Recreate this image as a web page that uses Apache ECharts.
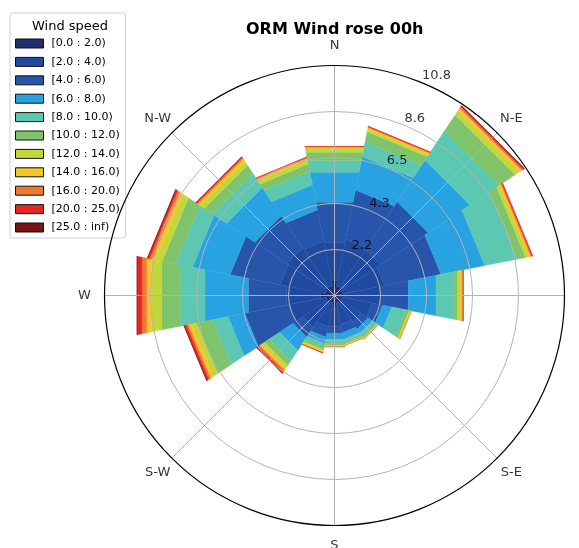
<!DOCTYPE html>
<html><head><meta charset="utf-8">
<script src="https://cdn.jsdelivr.net/npm/echarts@6/dist/echarts.min.js"></script>
<style>html,body{margin:0;padding:0;background:#fff}#c{width:579px;height:548px}</style>
</head><body><div id="c"></div>
<script>
// ---- data ----
const directions = ['N','NNE','NE','ENE','E','ESE','SE','SSE','S','SSW','SW','WSW','W','WNW','NW','NNW'];
const dirAngles = [0,22.5,45,67.5,90,112.5,135,157.5,180,202.5,225,247.5,270,292.5,315,337.5];
const speedBins = ['[0.0 : 2.0)','[2.0 : 4.0)','[4.0 : 6.0)','[6.0 : 8.0)','[8.0 : 10.0)','[10.0 : 12.0)','[12.0 : 14.0)','[14.0 : 16.0)','[16.0 : 20.0)','[20.0 : 25.0)','[25.0 : inf)'];
const binColors = ['#1f2d6e','#2049a0','#2655ab','#28a2e0','#5cc8b2','#7fc46b','#c2d73a','#f6c42c','#ef7832','#e6261f','#7b1414'];
// frequency (%) per direction for each speed bin
const s0_2   = [0.70,0.45,0.50,0.40,0.45,0.35,0.40,0.35,0.55,0.35,0.45,0.40,0.65,0.45,0.50,0.45];
const s2_4   = [1.85,2.25,2.10,2.00,1.75,1.45,1.10,1.05,0.95,1.15,1.35,1.80,1.65,2.15,2.20,2.15];
const s4_6   = [1.92,2.35,2.70,2.70,1.33,0.50,0.40,0.40,0.30,0.50,0.55,2.10,1.82,2.40,1.80,1.50];
const s6_8   = [1.43,1.60,2.35,2.10,1.33,0.45,0.25,0.30,0.30,0.30,0.75,0.80,2.08,1.80,1.60,1.20];
const s8_10  = [0.56,0.72,1.65,1.55,0.87,0.70,0.20,0.18,0.20,0.20,0.60,0.75,1.19,0.80,0.80,0.65];
const s10_12 = [0.40,0.47,0.90,0.40,0.16,0.13,0.07,0.06,0.07,0.10,0.25,0.75,0.88,0.65,0.45,0.35];
const s12_14 = [0.20,0.12,0.25,0.15,0.15,0.07,0.04,0.04,0.04,0.08,0.15,0.25,0.48,0.30,0.23,0.18];
const s14_16 = [0.04,0.08,0.13,0.10,0.07,0.03,0.01,0.02,0.03,0.06,0.12,0.15,0.24,0.18,0.14,0.09];
const s16_20 = [0.03,0.04,0.08,0.06,0.05,0.01,0.01,0.01,0.03,0.01,0.10,0.10,0.23,0.13,0.07,0.05];
const s20_25 = [0.01,0.03,0.06,0.04,0.01,0.00,0.00,0.00,0.00,0.01,0.08,0.10,0.22,0.09,0.04,0.02];
const s25_inf= [0.00,0.00,0.01,0.00,0.00,0.00,0.00,0.00,0.00,0.00,0.01,0.02,0.02,0.02,0.01,0.00];
const binValues = [s0_2,s2_4,s4_6,s6_8,s8_10,s10_12,s12_14,s14_16,s16_20,s20_25,s25_inf];
const radiusMax = 10.8;
const radiusTicks = [2.16,4.32,6.48,8.64,10.8];
const radiusTickLabels = ['2.2','4.3','6.5','8.6','10.8'];
const compassLabels = ['N','N-E','E','S-E','S','S-W','W','N-W'];
const compassAngles = [0,45,90,135,180,225,270,315];

// ---- chart ----
const FONT = 'DejaVu Sans';
const halfWidth = 360 / directions.length / 2;
const labelRadius = radiusMax * 250 / 230;

const series = [];
const cum = directions.map(() => 0);
binValues.forEach((vals, j) => {
  const data = vals.map((v, i) => {
    const base = cum[i];
    cum[i] += v;
    return [cum[i], dirAngles[i], base];
  });
  series.push({
    type: 'custom',
    name: speedBins[j],
    coordinateSystem: 'polar',
    polarIndex: 0,
    itemStyle: { color: binColors[j] },
    z: 2,
    silent: true,
    data: data,
    renderItem: function (params, api) {
      const top = api.value(0), ang = api.value(1), base = api.value(2);
      if (!(top > base)) return null;
      const a0 = ang - halfWidth, a1 = ang + halfWidth;
      const pts = [api.coord([base, a0]), api.coord([top, a0]), api.coord([top, a1]), api.coord([base, a1])];
      const c = api.visual('color');
      return { type: 'polygon', shape: { points: pts }, style: { fill: c, stroke: c, lineWidth: 0.4 } };
    }
  });
});

// grid drawn above the bars (matplotlib draws its grid on top)
series.push({
  type: 'custom', name: 'grid', coordinateSystem: 'polar', polarIndex: 0,
  silent: true, z: 10, zlevel: 1, clip: false,
  data: [[0, 0]],
  renderItem: function (params, api) {
    const c = api.coord([0, 0]);
    const children = [];
    radiusTicks.slice(0, -1).forEach(r => {
      const p = api.coord([r, 0]);
      const rr = Math.hypot(p[0] - c[0], p[1] - c[1]);
      children.push({ type: 'circle', shape: { cx: c[0], cy: c[1], r: rr },
        style: { fill: null, stroke: '#b4b4b4', lineWidth: 1 } });
    });
    compassAngles.forEach(a => {
      const p = api.coord([radiusMax, a]);
      children.push({ type: 'line', shape: { x1: c[0], y1: c[1], x2: p[0], y2: p[1] },
        style: { stroke: '#b4b4b4', lineWidth: 1 } });
    });
    const po = api.coord([radiusMax, 0]);
    children.push({ type: 'circle', shape: { cx: c[0], cy: c[1], r: Math.hypot(po[0] - c[0], po[1] - c[1]) },
      style: { fill: null, stroke: '#000', lineWidth: 1.2 } });
    return { type: 'group', children: children };
  }
});

const labelSeriesBase = {
  type: 'scatter', coordinateSystem: 'polar', polarIndex: 0, clip: false,
  symbol: 'circle', symbolSize: 1, itemStyle: { color: 'rgba(0,0,0,0)' },
  silent: true, z: 20, zlevel: 2, legendHoverLink: false
};
series.push(Object.assign({}, labelSeriesBase, {
  name: 'compass',
  data: compassAngles.map((a, i) => [labelRadius, a, compassLabels[i]]),
  label: { show: true, position: 'inside', formatter: p => p.value[2],
    fontFamily: FONT, fontSize: 13, color: '#000', align: 'center', verticalAlign: 'middle' }
}));
series.push(Object.assign({}, labelSeriesBase, {
  name: 'rlabels',
  data: radiusTicks.map((r, i) => [r, 22.5, radiusTickLabels[i]]),
  label: { show: true, position: [0, 0], formatter: p => p.value[2],
    fontFamily: FONT, fontSize: 13, color: '#000', align: 'left', verticalAlign: 'bottom' }
}));

const chart = echarts.init(document.getElementById('c'), null, { renderer: 'canvas' });
chart.setOption({
  animation: false,
  backgroundColor: '#fff',
  title: [
    { text: 'ORM Wind rose 00h', left: 241, top: 17,
      textStyle: { fontFamily: FONT, fontSize: 16, fontWeight: 'bold', color: '#000' } },
    { text: 'Wind speed', left: 27, top: 15, z: 10,
      textStyle: { fontFamily: FONT, fontSize: 13, fontWeight: 'normal', color: '#000' } }
  ],
  legend: {
    data: speedBins, orient: 'vertical', left: 10, top: 13,
    padding: [25, 6, 5, 5], itemGap: 7.4, itemWidth: 28, itemHeight: 9,
    icon: 'rect', selectedMode: false,
    backgroundColor: '#fff', borderColor: '#d0d0d0', borderWidth: 1, borderRadius: 3,
    itemStyle: { borderColor: '#111', borderWidth: 1 },
    textStyle: { fontFamily: FONT, fontSize: 11, color: '#000', padding: [0, 0, 0, 3] }
  },
  polar: { center: [334.5, 295.5], radius: 230 },
  angleAxis: {
    type: 'value', min: 0, max: 360, interval: 45, startAngle: 90, clockwise: true,
    axisLine: { show: false }, axisTick: { show: false }, axisLabel: { show: false },
    splitLine: { show: false }
  },
  radiusAxis: {
    type: 'value', min: 0, max: radiusMax, interval: radiusMax / 5,
    axisLine: { show: false }, axisTick: { show: false }, axisLabel: { show: false },
    splitLine: { show: false }
  },
  series: series
});
</script></body></html>
